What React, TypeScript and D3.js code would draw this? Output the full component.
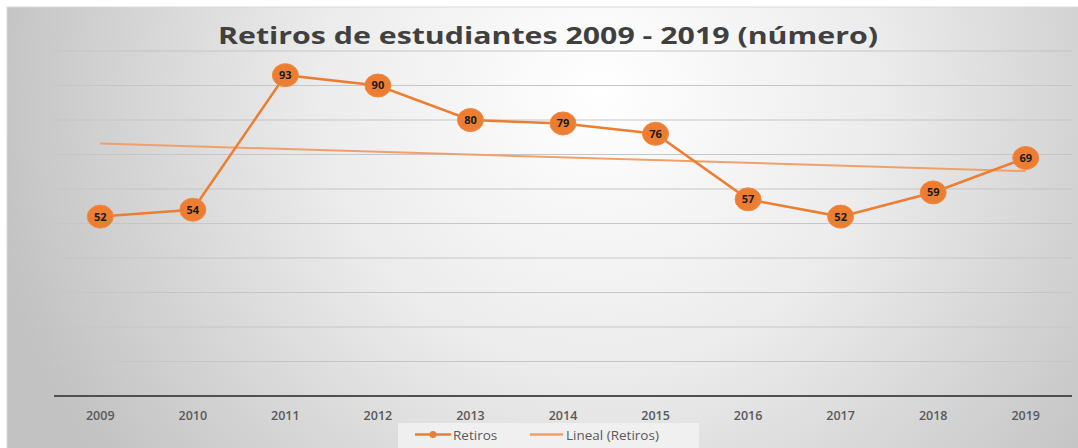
import React, { useEffect, useRef } from 'react';
import * as d3 from 'd3';

const years = ['2009', '2010', '2011', '2012', '2013', '2014', '2015', '2016', '2017', '2018', '2019'];
const retiros = [52, 54, 93, 90, 80, 79, 76, 57, 52, 59, 69];
const yTicks = [0, 10, 20, 30, 40, 50, 60, 70, 80, 90, 100];
const title = 'Retiros de estudiantes 2009 - 2019 (número)';

const App = () => {
  const svgRef = useRef<SVGSVGElement>(null);

  useEffect(() => {
    const svg = d3.select(svgRef.current);
    svg.selectAll('*').remove();

    const width = 1078;
    const height = 448;
    const margin = { left: 54, right: 6, top: 51, bottom: 52 };
    const orange = '#ED7D31';
    const trend = '#F0A06A';

    // background gradient
    const defs = svg.append('defs');
    const bg = defs.append('radialGradient')
      .attr('id', 'bgGrad')
      .attr('gradientUnits', 'userSpaceOnUse')
      .attr('cx', 600).attr('cy', 90)
      .attr('r', 620);
    bg.append('stop').attr('offset', '0%').attr('stop-color', '#ffffff');
    bg.append('stop').attr('offset', '45%').attr('stop-color', '#ececec');
    bg.append('stop').attr('offset', '100%').attr('stop-color', '#c2c2c2');

    svg.append('rect')
      .attr('x', 7).attr('y', 7)
      .attr('width', width).attr('height', height)
      .attr('fill', 'url(#bgGrad)')
      .attr('stroke', '#d9d9d9');

    const x = d3.scaleBand()
      .domain(years)
      .range([margin.left, width - margin.right]);
    const y = d3.scaleLinear()
      .domain([0, 100])
      .range([height - margin.bottom, margin.top]);
    const cx = (d: string) => (x(d) as number) + x.bandwidth() / 2;

    // gridlines
    svg.append('g')
      .selectAll('line')
      .data(yTicks.slice(1))
      .enter()
      .append('line')
      .attr('x1', margin.left)
      .attr('x2', width - margin.right)
      .attr('y1', d => y(d))
      .attr('y2', d => y(d))
      .attr('stroke', '#c6c6c6')
      .attr('stroke-width', 1.2);

    // x axis line
    svg.append('line')
      .attr('x1', margin.left)
      .attr('x2', width - margin.right)
      .attr('y1', y(0))
      .attr('y2', y(0))
      .attr('stroke', '#505050')
      .attr('stroke-width', 2);

    // x labels
    svg.append('g')
      .selectAll('text')
      .data(years)
      .enter()
      .append('text')
      .attr('x', d => cx(d))
      .attr('y', y(0) + 24)
      .attr('text-anchor', 'middle')
      .attr('font-family', 'Open Sans, sans-serif')
      .attr('font-size', '12.5px')
      .attr('font-weight', 600)
      .attr('fill', '#595959')
      .text(d => d);

    // title
    svg.append('text')
      .attr('x', 548)
      .attr('y', 44)
      .attr('text-anchor', 'middle')
      .attr('font-family', 'Open Sans, sans-serif')
      .attr('font-size', '23px')
      .attr('font-weight', 700)
      .attr('fill', '#404040')
      .attr('textLength', 660)
      .attr('lengthAdjust', 'spacingAndGlyphs')
      .text(title);

    // linear trendline (least squares)
    const n = retiros.length;
    const xs = d3.range(n);
    const mx = d3.mean(xs) as number;
    const my = d3.mean(retiros) as number;
    const slope = d3.sum(xs, i => (i - mx) * (retiros[i] - my)) / d3.sum(xs, i => (i - mx) ** 2);
    const intercept = my - slope * mx;
    svg.append('line')
      .attr('x1', cx(years[0]))
      .attr('x2', cx(years[n - 1]))
      .attr('y1', y(intercept))
      .attr('y2', y(intercept + slope * (n - 1)))
      .attr('stroke', trend)
      .attr('stroke-width', 2);

    // main line
    const line = d3.line<number>()
      .x((_, i) => cx(years[i]))
      .y(d => y(d));
    svg.append('path')
      .datum(retiros)
      .attr('d', line)
      .attr('fill', 'none')
      .attr('stroke', orange)
      .attr('stroke-width', 2.5);

    // markers + labels
    const pts = svg.append('g')
      .selectAll('g')
      .data(retiros)
      .enter()
      .append('g')
      .attr('transform', (d, i) => `translate(${cx(years[i])},${y(d)})`);
    pts.append('ellipse')
      .attr('rx', 13)
      .attr('ry', 11.5)
      .attr('fill', orange)
      .attr('stroke', '#F08A45')
      .attr('stroke-width', 1);
    pts.append('text')
      .attr('text-anchor', 'middle')
      .attr('dy', '0.36em')
      .attr('font-family', 'Open Sans, sans-serif')
      .attr('font-size', '11px')
      .attr('font-weight', 700)
      .attr('fill', '#1a1a1a')
      .text(d => d);

    // legend
    const lg = svg.append('g');
    const ly = 434.5;
    lg.append('rect')
      .attr('x', 398).attr('y', 423)
      .attr('width', 301).attr('height', 30)
      .attr('fill', '#f2f2f2')
      .attr('opacity', 0.85);
    lg.append('line')
      .attr('x1', 415).attr('x2', 451)
      .attr('y1', ly).attr('y2', ly)
      .attr('stroke', orange).attr('stroke-width', 2.5);
    lg.append('circle')
      .attr('cx', 433).attr('cy', ly).attr('r', 3.5)
      .attr('fill', orange);
    lg.append('text')
      .attr('x', 453).attr('y', ly + 5)
      .attr('font-family', 'Open Sans, sans-serif')
      .attr('font-size', '13.5px')
      .attr('fill', '#595959')
      .text('Retiros');
    lg.append('line')
      .attr('x1', 530).attr('x2', 563)
      .attr('y1', ly).attr('y2', ly)
      .attr('stroke', trend).attr('stroke-width', 2.5);
    lg.append('text')
      .attr('x', 566).attr('y', ly + 5)
      .attr('font-family', 'Open Sans, sans-serif')
      .attr('font-size', '13.5px')
      .attr('fill', '#595959')
      .text('Lineal (Retiros)');
  }, []);

  return (
    <svg
      ref={svgRef}
      width={1078}
      height={448}
      style={{ position: 'absolute', left: 0, top: 0, background: '#ffffff' }}
    />
  );
};

export default App;
